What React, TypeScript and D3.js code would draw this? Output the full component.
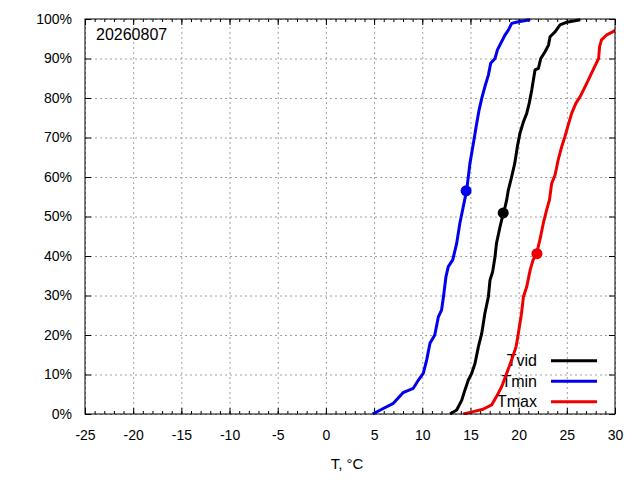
import { useRef, useEffect } from 'react';
import * as d3 from 'd3';

// [temperature, cumulative percent]
const tvid: [number, number][] = [
    [12.88, 0], [13.57, 1], [14.1, 3.5], [14.43, 6.1], [14.78, 8.6], [15.13, 10.3], [15.47, 12.8],
    [15.82, 17], [16.17, 20.4], [16.5, 25.5], [16.86, 29.7], [17.03, 33.9], [17.3, 36], [17.55, 39.8],
    [17.7, 43.2], [18.07, 47.4], [18.4, 50.8], [18.6, 52.5], [18.76, 54.2], [18.93, 56.7], [19.28, 60.1],
    [19.6, 63.5], [19.87, 67.7], [20.14, 71.1], [20.5, 74], [20.84, 76.1], [21.1, 78.7], [21.36, 82],
    [21.7, 87.1], [22.05, 87.5], [22.3, 90], [22.74, 91.7], [23.1, 93.4], [23.26, 95.5], [23.8, 96.8],
    [24.3, 98.5], [25, 99.2], [26.4, 99.8],
];

const tmin: [number, number][] = [
    [4.85, 0], [5.8, 1.2], [7.0, 2.7], [8.0, 5.4], [9.07, 6.5], [9.6, 8.6], [10.1, 10.3], [10.46, 13.7],
    [10.8, 17.9], [11.3, 20], [11.67, 24.6], [12.0, 26.3], [12.2, 29.7], [12.46, 34.8], [12.7, 37.3],
    [13.16, 39], [13.57, 43.2], [13.9, 48.3], [14.4, 54.2], [14.6, 56.5], [14.95, 63.5], [15.3, 68.5],
    [15.65, 73.6], [15.9, 77], [16.17, 79.9], [16.5, 82.9], [16.86, 85.8], [17.1, 88.8], [17.55, 90],
    [17.8, 92.2], [18.24, 94.3], [18.6, 96], [18.93, 97.2], [19.28, 98.9], [19.97, 99.3], [21.2, 99.8],
];

const tmax: [number, number][] = [
    [14.26, 0], [15.3, 0.6], [16.3, 1.2], [17.2, 2.3], [17.7, 4.4], [18.24, 6.9], [18.76, 10.3],
    [19.28, 13.7], [19.73, 17], [19.97, 20.4], [20.3, 25.5], [20.5, 29.7], [20.84, 32.2], [21.2, 36.5],
    [21.5, 39], [21.87, 40.7], [22.2, 44], [22.56, 48.3], [22.9, 51.6], [23.2, 54.2], [23.43, 58.4],
    [23.78, 60.5], [24.1, 64.3], [24.47, 67.7], [24.8, 70.2], [25.15, 73.2], [25.5, 76.1], [25.95, 78.7],
    [26.37, 80.3], [26.9, 82.9], [27.4, 85.4], [27.9, 88], [28.3, 90], [28.4, 93], [28.6, 94.7],
    [29.1, 95.9], [29.8, 96.8], [30.2, 97.4],
];

// median-ish markers
const tvidMark: [number, number] = [18.4, 50.9];
const tminMark: [number, number] = [14.55, 56.5];
const tmaxMark: [number, number] = [21.9, 40.6];

const xTicks = [-25, -20, -15, -10, -5, 0, 5, 10, 15, 20, 25, 30];
const yTicks = [0, 10, 20, 30, 40, 50, 60, 70, 80, 90, 100];
const dateLabel = '20260807';
const xLabel = 'T, °C';

const series = [
    { name: 'Tvid', data: tvid, mark: tvidMark, color: '#000000' },
    { name: 'Tmin', data: tmin, mark: tminMark, color: '#0000ee' },
    { name: 'Tmax', data: tmax, mark: tmaxMark, color: '#ee0000' },
];

export default function App() {
    const svgRef = useRef<SVGSVGElement | null>(null);
    const width = 640;
    const height = 480;

    useEffect(() => {
        if (!svgRef.current) return;
        d3.select(svgRef.current).selectAll('*').remove();

        const margin = { top: 19, right: 25, bottom: 66, left: 85 };
        const innerWidth = width - margin.left - margin.right;
        const innerHeight = height - margin.top - margin.bottom;
        const font = '"Liberation Sans", Arial, sans-serif';

        const root = d3.select(svgRef.current)
            .attr('width', width)
            .attr('height', height)
            .style('font-family', font);

        root.append('rect').attr('width', width).attr('height', height).attr('fill', '#fff');

        const svg = root.append('g')
            .attr('transform', `translate(${margin.left},${margin.top})`);

        const x = d3.scaleLinear().domain([-25, 30]).range([0, innerWidth]);
        const y = d3.scaleLinear().domain([0, 100]).range([innerHeight, 0]);

        // grid
        const gx = svg.append('g')
            .attr('transform', `translate(0,${innerHeight})`)
            .call(d3.axisBottom(x).tickValues(xTicks).tickSize(-innerHeight).tickFormat(() => ''));
        const gy = svg.append('g')
            .call(d3.axisLeft(y).tickValues(yTicks).tickSize(-innerWidth).tickFormat(() => ''));
        [gx, gy].forEach(g => {
            g.select('.domain').remove();
            g.selectAll('line').attr('stroke', '#a0a0a0').attr('stroke-dasharray', '2,3');
        });

        // minor ticks
        const minor = d3.range(-25, 31, 1);
        svg.append('g')
            .attr('transform', `translate(0,${innerHeight})`)
            .call(d3.axisBottom(x).tickValues(minor).tickSize(-3).tickFormat(() => ''))
            .select('.domain').remove();
        svg.append('g')
            .call(d3.axisTop(x).tickValues(minor).tickSize(-3).tickFormat(() => ''))
            .select('.domain').remove();

        // major ticks + labels
        const xAxis = svg.append('g')
            .attr('transform', `translate(0,${innerHeight})`)
            .call(d3.axisBottom(x).tickValues(xTicks).tickSize(-6).tickPadding(16).tickFormat(d => String(d)));
        svg.append('g')
            .call(d3.axisTop(x).tickValues(xTicks).tickSize(-6).tickFormat(() => ''));
        const yAxis = svg.append('g')
            .call(d3.axisLeft(y).tickValues(yTicks).tickSize(-6).tickPadding(13).tickFormat(d => `${d}%`));
        svg.append('g')
            .attr('transform', `translate(${innerWidth},0)`)
            .call(d3.axisRight(y).tickValues(yTicks).tickSize(-6).tickFormat(() => ''));
        svg.selectAll('.domain').remove();
        [xAxis, yAxis].forEach(g => {
            g.selectAll('text').attr('font-size', 14).attr('font-family', font).attr('fill', '#000');
        });

        svg.append('text')
            .attr('x', innerWidth / 2 - 3)
            .attr('y', innerHeight + 55)
            .attr('text-anchor', 'middle')
            .attr('font-size', 15)
            .text(xLabel);

        svg.append('text')
            .attr('x', 11)
            .attr('y', 21)
            .attr('font-size', 16)
            .text(dateLabel);

        // legend
        const legend = svg.append('g');
        series.forEach((s, i) => {
            const ly = 341.7 + i * 20.5;
            legend.append('text')
                .attr('x', 452)
                .attr('y', ly)
                .attr('dy', '0.36em')
                .attr('text-anchor', 'end')
                .attr('font-size', 16)
                .text(s.name);
            legend.append('line')
                .attr('x1', 466).attr('x2', 512)
                .attr('y1', ly).attr('y2', ly)
                .attr('stroke', s.color)
                .attr('stroke-width', 3);
        });

        root.append('defs').append('clipPath').attr('id', 'plot-clip')
            .append('rect').attr('width', innerWidth).attr('height', innerHeight + 2).attr('y', -1);

        const line = d3.line<[number, number]>()
            .x(d => x(d[0]))
            .y(d => y(d[1]));

        const curves = svg.append('g').attr('clip-path', 'url(#plot-clip)');
        [series[1], series[0], series[2]].forEach(s => {
            curves.append('path')
                .datum(s.data)
                .attr('fill', 'none')
                .attr('stroke', s.color)
                .attr('stroke-width', 3)
                .attr('stroke-linejoin', 'round')
                .attr('d', line);
            curves.append('circle')
                .attr('cx', x(s.mark[0]))
                .attr('cy', y(s.mark[1]))
                .attr('r', 5.5)
                .attr('fill', s.color);
        });

        // border
        svg.append('rect')
            .attr('width', innerWidth)
            .attr('height', innerHeight)
            .attr('fill', 'none')
            .attr('stroke', '#000')
            .attr('stroke-width', 1);
    }, []);

    return (
        <svg ref={svgRef} style={{ position: 'absolute', left: 0, top: 0 }} />
    );
}
